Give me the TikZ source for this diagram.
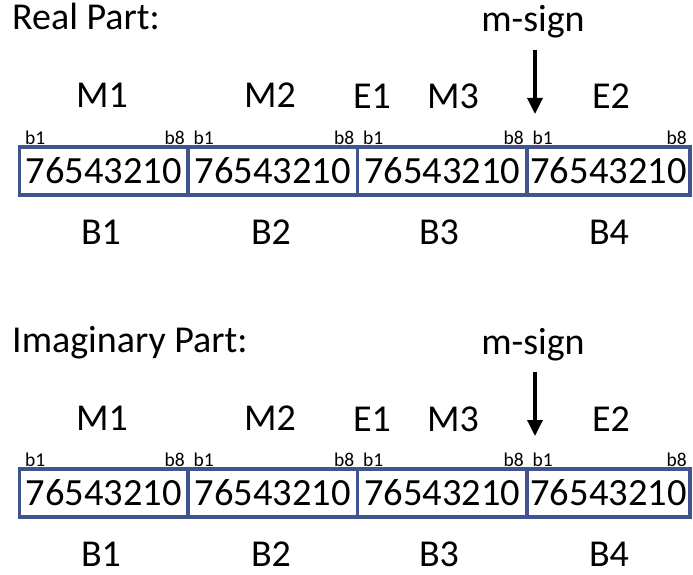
\documentclass[tikz,border=0pt]{standalone}
\usepackage{fontspec}
\setmainfont{Carlito}
\usetikzlibrary{arrows.meta}
\definecolor{boxblue}{RGB}{64,84,144}
\begin{document}
\begin{tikzpicture}[x=1pt,y=-1pt,
  lbl/.style={inner sep=0pt, anchor=base, font=\fontsize{38}{38}\selectfont},
  title/.style={inner sep=0pt, anchor=base west, font=\fontsize{38}{38}\selectfont},
  bitl/.style={inner sep=0pt, anchor=base west, font=\fontsize{19.5}{19.5}\selectfont},
  bitr/.style={inner sep=0pt, anchor=base east, font=\fontsize{19.5}{19.5}\selectfont},
  cell/.style={draw=boxblue, line width=3.6pt, inner sep=0pt, outer sep=0pt, minimum height=48pt, font=\fontsize{38.5}{38.5}\selectfont},
  sgnarrow/.style={line width=3.4pt, -{Triangle[width=15pt,length=16pt]}}]
\useasboundingbox (0,0) rectangle (693,575);
\foreach \p/\dy/\ttl in {R/0/{Real Part:}, I/322/{Imaginary Part:}} {
  \begin{scope}[yshift=-\dy pt]
    \node[title] (\p-title) at (12,30) {\ttl};
    \node[lbl] (\p-msign) at (533,32) {m-sign};
    \coordinate (\p-at) at (535,50);
    \coordinate (\p-ah) at (535,114);
    \draw[sgnarrow] (\p-at) -- (\p-ah);
    \node[lbl] (\p-M1) at (102,108) {M1};
    \node[lbl] (\p-M2) at (270,108) {M2};
    \node[lbl] (\p-E1) at (372,109) {E1};
    \node[lbl] (\p-M3) at (453,109) {M3};
    \node[lbl] (\p-E2) at (611,109) {E2};
    \node[cell, minimum width=168.5pt] (\p-c1) at (103.75,171) {76543210};
    \node[cell, minimum width=169.5pt] (\p-c2) at (272.75,171) {76543210};
    \node[cell, minimum width=169.5pt] (\p-c3) at (442.25,171) {76543210};
    \node[cell, minimum width=163pt] (\p-c4) at (608.5,171) {76543210};
    \foreach \c in {1,2,3,4} {
      \node[bitl] (\p-b1-\c) at ([xshift=5.5pt,yshift=3pt]\p-c\c.north west) {b1};
      \node[bitr] (\p-b8-\c) at ([xshift=-3pt,yshift=3pt]\p-c\c.north east) {b8};
    }
    \node[lbl] (\p-B1) at (101,244) {B1};
    \node[lbl] (\p-B2) at (271,244) {B2};
    \node[lbl] (\p-B3) at (439,244) {B3};
    \node[lbl] (\p-B4) at (609,244) {B4};
  \end{scope}
}
\end{tikzpicture}
\end{document}
